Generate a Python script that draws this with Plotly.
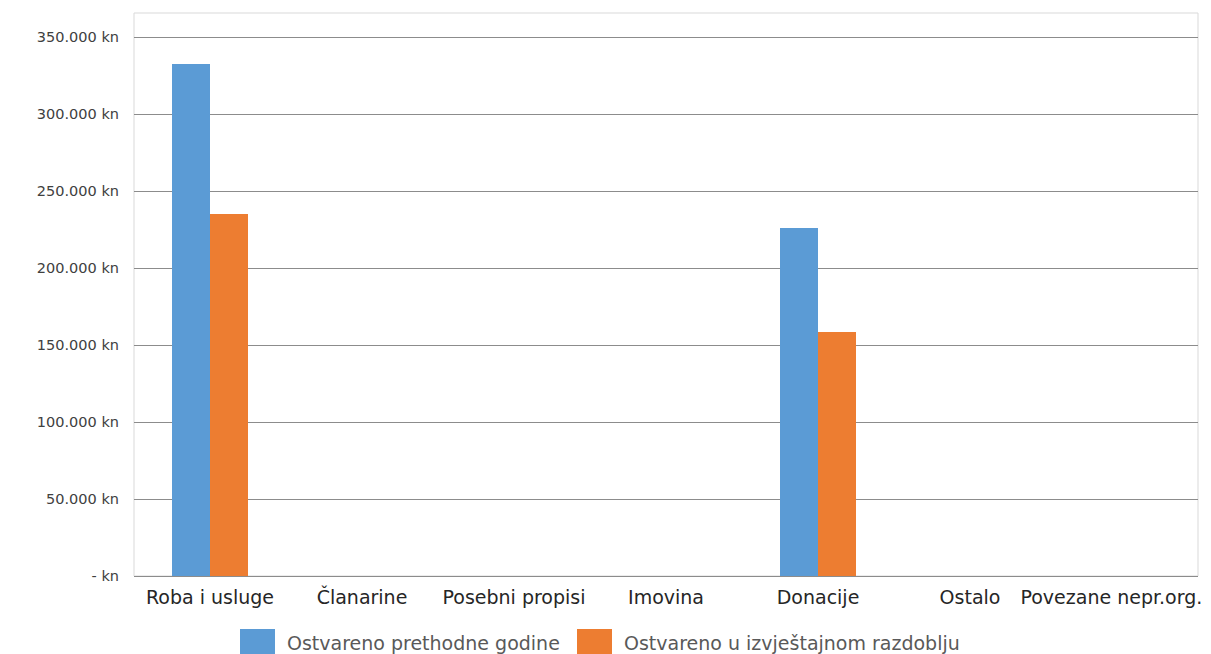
import plotly.graph_objects as go

categories = ["Roba i usluge", "Članarine", "Posebni propisi", "Imovina", "Donacije", "Ostalo", "Povezane nepr.org."]
prev_year = [332500, 0, 0, 0, 226000, 0, 0]
curr_period = [235000, 0, 0, 0, 158400, 0, 0]
series_names = ["Ostvareno prethodne godine", "Ostvareno u izvještajnom razdoblju"]
series_colors = ["#5b9bd5", "#ed7d31"]
y_tickvals = [0, 50000, 100000, 150000, 200000, 250000, 300000, 350000]
y_ticktext = ["- kn", "50.000 kn", "100.000 kn", "150.000 kn", "200.000 kn", "250.000 kn", "300.000 kn", "350.000 kn"]

font = "DejaVu Sans, Verdana, sans-serif"

xpos = list(range(len(categories)))
# label positions: the last label is nudged left so it fits inside the chart (as in the original)
label_pos = [float(i) for i in xpos]
label_pos[-1] = xpos[-1] - 0.07

fig = go.Figure()
for name, vals, col in zip(series_names, [prev_year, curr_period], series_colors):
    fig.add_trace(go.Bar(x=xpos, y=vals, name=name, marker=dict(color=col, line=dict(width=0)),
                         hovertext=categories))

# plot area in screen px: x 134..1198, y 13..576
PX0, PX1, PY0, PY1 = 134, 1198, 13, 576

def px_x(p):
    return (p - PX0) / float(PX1 - PX0)

def px_y(p):
    return (PY1 - p) / float(PY1 - PY0)

shapes = [dict(type="rect", xref="paper", yref="paper", x0=0, x1=1, y0=0, y1=1,
               line=dict(color="#d9d9d9", width=1), fillcolor="rgba(0,0,0,0)", layer="below")]
annotations = []
legend_pos = [(240, 275, 285), (577, 612, 622)]
for (sx0, sx1, tx), name, col in zip(legend_pos, series_names, series_colors):
    shapes.append(dict(type="rect", xref="paper", yref="paper", x0=px_x(sx0), x1=px_x(sx1),
                       y0=px_y(665), y1=px_y(629), fillcolor=col, line=dict(width=0)))
    annotations.append(dict(xref="paper", yref="paper", x=px_x(tx), y=px_y(643), text=name,
                            showarrow=False, xanchor="left", yanchor="middle",
                            font=dict(family=font, size=19, color="#595959")))

fig.update_layout(
    width=1203, height=646,
    margin=dict(l=126, r=13, t=5, b=78),
    barmode="group", bargap=0.5, bargroupgap=0,
    paper_bgcolor="white", plot_bgcolor="white",
    font=dict(family=font, size=14, color="#404040"),
    showlegend=False,
    shapes=shapes,
    annotations=annotations,
)
fig.update_xaxes(range=[-0.5, len(categories) - 0.5], tickvals=label_pos, ticktext=categories,
                 showgrid=False, showline=True, linecolor="#8c8c8c", linewidth=1, zeroline=False,
                 ticks="", tickfont=dict(family=font, size=19, color="#262626"), ticklabelstandoff=4)
fig.update_yaxes(range=[0, 365600], tickvals=y_tickvals, ticktext=y_ticktext,
                 showgrid=True, gridcolor="#8c8c8c", gridwidth=1, zeroline=False,
                 showline=False, ticks="", tickfont=dict(family=font, size=14.5, color="#404040"),
                 ticklabelstandoff=14)

fig.write_html("out.html")
